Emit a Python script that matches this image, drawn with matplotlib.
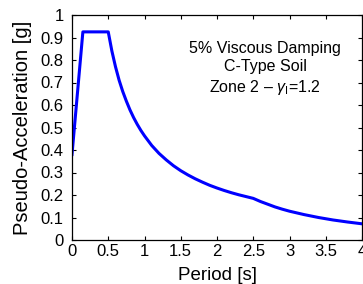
import matplotlib
matplotlib.use("Agg")
import matplotlib.pyplot as plt

period = [0.0, 0.15, 0.5, 0.55, 0.6, 0.65, 0.7, 0.75, 0.8, 0.85, 0.9, 0.95,
          1.0, 1.1, 1.2, 1.3, 1.4, 1.5, 1.6, 1.7, 1.8, 1.9, 2.0, 2.1, 2.2,
          2.3, 2.4, 2.5, 2.6, 2.7, 2.8, 2.9, 3.0, 3.2, 3.4, 3.6, 3.8, 4.0]
accel = [0.38, 0.925, 0.925, 0.84, 0.77, 0.71, 0.66, 0.617, 0.578, 0.544,
         0.514, 0.487, 0.463, 0.42, 0.385, 0.356, 0.33, 0.308, 0.289, 0.272,
         0.257, 0.243, 0.231, 0.22, 0.21, 0.201, 0.193, 0.185, 0.171, 0.159,
         0.147, 0.137, 0.128, 0.113, 0.1, 0.089, 0.08, 0.072]
xticks = [0, 0.5, 1, 1.5, 2, 2.5, 3, 3.5, 4]
xticklabels = ["0", "0.5", "1", "1.5", "2", "2.5", "3", "3.5", "4"]
yticks = [0, 0.1, 0.2, 0.3, 0.4, 0.5, 0.6, 0.7, 0.8, 0.9, 1]
yticklabels = ["0", "0.1", "0.2", "0.3", "0.4", "0.5", "0.6", "0.7", "0.8", "0.9", "1"]

plt.rcParams['font.family'] = ['Liberation Sans', 'DejaVu Sans']
plt.rcParams['mathtext.fontset'] = 'custom'
plt.rcParams['mathtext.it'] = 'Liberation Sans:italic'
plt.rcParams['mathtext.rm'] = 'Liberation Sans'

fig = plt.figure(figsize=(3.63, 2.84), dpi=100)
ax = fig.add_axes([72/363, 1 - 240/284, 290/363, 225/284])
ax.plot(period, accel, color='#0000ff', linewidth=2.2, solid_joinstyle='round')
ax.set_xlim(0, 4)
ax.set_ylim(0, 1)
ax.set_xticks(xticks)
ax.set_xticklabels(xticklabels)
ax.set_yticks(yticks)
ax.set_yticklabels(yticklabels)
ax.tick_params(direction='in', top=True, right=True, length=3, width=0.8,
               labelsize=12, pad=3)
ax.tick_params(axis='y', pad=6)
for s in ax.spines.values():
    s.set_linewidth(0.9)
ax.set_xlabel("Period [s]", fontsize=13.5, labelpad=6)
ax.set_ylabel("Pseudo-Acceleration [g]", fontsize=14.5, labelpad=6)
ax.text(265/363, 1 - 69/284, "5% Viscous Damping\nC-Type Soil\nZone 2 – $\\gamma_{\\rm I}$=1.2",
        transform=fig.transFigure, ha='center', va='center', fontsize=11.5,
        linespacing=1.25)
fig.savefig("out.png", dpi=100)
